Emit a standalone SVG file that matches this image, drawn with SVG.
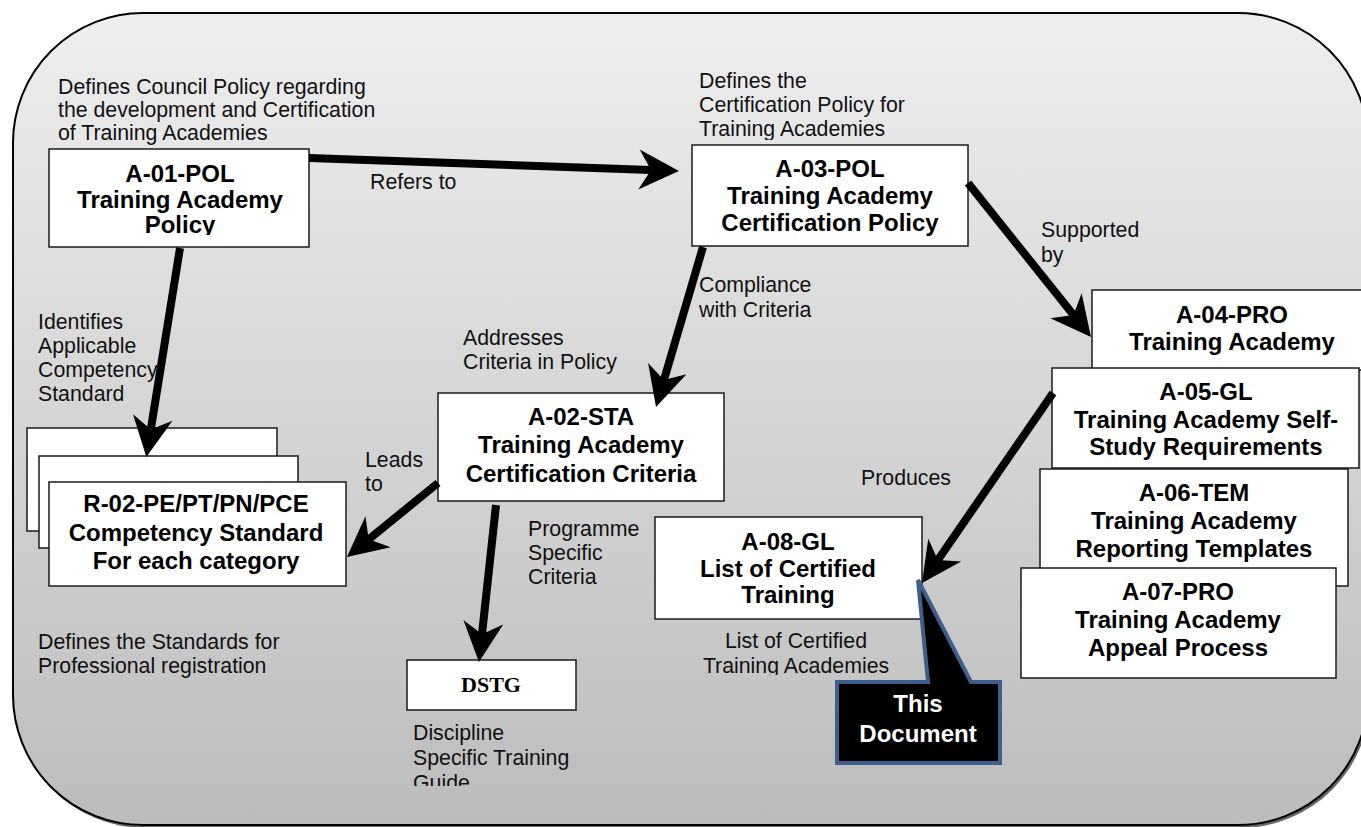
<svg xmlns="http://www.w3.org/2000/svg" width="1361" height="827" viewBox="0 0 1361 827">
<defs>
<linearGradient id="bgGrad" x1="0" y1="0" x2="0" y2="1">
<stop offset="0" stop-color="#eeeeee"/>
<stop offset="1" stop-color="#bcbcbc"/>
</linearGradient>
<marker id="ah" markerUnits="userSpaceOnUse" viewBox="-14 -22 46 44" refX="0" refY="0" markerWidth="46" markerHeight="44" orient="auto">
<path d="M28,0 L-12,-20 L0,0 L-12,20 Z" fill="#000"/>
</marker>
<clipPath id="clipA01"><rect x="40" y="140" width="280" height="95"/></clipPath>
<clipPath id="clipDef2"><rect x="690" y="60" width="300" height="80"/></clipPath>
<clipPath id="clipList"><rect x="680" y="620" width="240" height="55"/></clipPath>
<clipPath id="clipDisc"><rect x="400" y="715" width="200" height="71"/></clipPath>
<style>
.frame{fill:url(#bgGrad);stroke:#000;stroke-width:2}
.shadow{fill:#666}
.box{fill:#fff;stroke:#1a1a1a;stroke-width:1.5}
.t{font-family:"Liberation Sans",Arial,sans-serif;font-weight:bold;font-size:24px;fill:#000;text-anchor:middle}
.l{font-family:"Liberation Sans",Arial,sans-serif;font-size:21.3px;fill:#111}
.c{text-anchor:middle}
.w{fill:#fff}
.serif{font-family:"Liberation Serif","Times New Roman",serif;font-weight:bold;font-size:22px;fill:#000;text-anchor:middle}
.conn{stroke:#000;stroke-width:8;fill:none;marker-end:url(#ah)}
.callout{fill:#000;stroke:#3c5f8b;stroke-width:4;stroke-linejoin:miter}
</style>
</defs>

<g id="background">
<rect class="shadow" x="15" y="16" width="1355" height="812" rx="130" ry="130"/>
<rect class="frame" x="13" y="13" width="1355" height="812" rx="130" ry="130"/>
</g>

<g id="labels">
<text class="l" x="58" y="94">Defines Council Policy regarding</text>
<text class="l" x="58" y="117">the development and Certification</text>
<text class="l" x="58" y="140">of Training Academies</text>
<text class="l" x="370" y="189">Refers to</text>
<g clip-path="url(#clipDef2)">
<text class="l" x="699" y="88">Defines the</text>
<text class="l" x="699" y="112">Certification Policy for</text>
<text class="l" x="699" y="136">Training Academies</text>
</g>
<text class="l" x="1041" y="237">Supported</text>
<text class="l" x="1041" y="262">by</text>
<text class="l" x="38" y="329">Identifies</text>
<text class="l" x="38" y="353">Applicable</text>
<text class="l" x="38" y="377">Competency</text>
<text class="l" x="38" y="401">Standard</text>
<text class="l" x="699" y="292">Compliance</text>
<text class="l" x="699" y="317">with Criteria</text>
<text class="l" x="463" y="345">Addresses</text>
<text class="l" x="463" y="369">Criteria in Policy</text>
<text class="l" x="365" y="467">Leads</text>
<text class="l" x="365" y="491">to</text>
<text class="l" x="861" y="485">Produces</text>
<text class="l" x="528" y="536">Programme</text>
<text class="l" x="528" y="560">Specific</text>
<text class="l" x="528" y="584">Criteria</text>
<text class="l" x="38" y="649">Defines the Standards for</text>
<text class="l" x="38" y="673">Professional registration</text>
<g clip-path="url(#clipList)">
<text class="l c" x="796" y="648">List of Certified</text>
<text class="l c" x="796" y="673">Training Academies</text>
</g>
<g clip-path="url(#clipDisc)">
<text class="l" x="413" y="740">Discipline</text>
<text class="l" x="413" y="765">Specific Training</text>
<text class="l" x="413" y="790">Guide</text>
</g>
</g>

<g id="node-a01">
<rect class="box" x="49" y="149" width="260" height="98"/>
<g clip-path="url(#clipA01)">
<text class="t" x="180" y="182">A-01-POL</text>
<text class="t" x="180" y="208">Training Academy</text>
<text class="t" x="180" y="233">Policy</text>
</g>
</g>

<g id="node-a03">
<rect class="box" x="692" y="145" width="276" height="101"/>
<text class="t" x="830" y="177">A-03-POL</text>
<text class="t" x="830" y="204">Training Academy</text>
<text class="t" x="830" y="231">Certification Policy</text>
</g>

<g id="node-a04">
<rect class="box" x="1092" y="290" width="280" height="80"/>
<text class="t" x="1232" y="323">A-04-PRO</text>
<text class="t" x="1232" y="350">Training Academy</text>
</g>

<g id="node-a05">
<rect class="box" x="1052" y="368" width="307" height="100"/>
<text class="t" x="1206" y="400">A-05-GL</text>
<text class="t" x="1206" y="428">Training Academy Self-</text>
<text class="t" x="1206" y="455">Study Requirements</text>
</g>

<g id="node-a06">
<rect class="box" x="1040" y="469" width="308" height="117"/>
<text class="t" x="1194" y="501">A-06-TEM</text>
<text class="t" x="1194" y="529">Training Academy</text>
<text class="t" x="1194" y="557">Reporting Templates</text>
</g>

<g id="node-a07">
<rect class="box" x="1021" y="568" width="315" height="110"/>
<text class="t" x="1178" y="600">A-07-PRO</text>
<text class="t" x="1178" y="628">Training Academy</text>
<text class="t" x="1178" y="656">Appeal Process</text>
</g>

<g id="node-a02">
<rect class="box" x="438" y="393" width="286" height="108"/>
<text class="t" x="581" y="425">A-02-STA</text>
<text class="t" x="581" y="453">Training Academy</text>
<text class="t" x="581" y="482">Certification Criteria</text>
</g>

<g id="node-r02">
<rect class="box" x="27" y="428" width="250" height="103"/>
<rect class="box" x="39" y="456" width="259" height="92"/>
<rect class="box" x="49" y="482" width="297" height="104"/>
<text class="t" x="196" y="512">R-02-PE/PT/PN/PCE</text>
<text class="t" x="196" y="541">Competency Standard</text>
<text class="t" x="196" y="569">For each category</text>
</g>

<g id="node-a08">
<rect class="box" x="655" y="517" width="267" height="102"/>
<text class="t" x="788" y="550">A-08-GL</text>
<text class="t" x="788" y="577">List of Certified</text>
<text class="t" x="788" y="603">Training</text>
</g>

<g id="node-dstg">
<rect class="box" x="407" y="660" width="169" height="50"/>
<text class="serif" x="491" y="692">DSTG</text>
</g>

<g id="node-this-document">
<path class="callout" d="M837,682 L928,682 L918,580 L971,682 L1000,682 L1000,763 L837,763 Z"/>
<text class="t w" x="918" y="712">This</text>
<text class="t w" x="918" y="742">Document</text>
</g>

<g id="connectors">
<path class="conn" d="M309,158 L651,170"/>
<path class="conn" d="M968,183 L1073.5,315.1"/>
<path class="conn" d="M180,248 L150.8,429.4"/>
<path class="conn" d="M703,247 L663.9,380.1"/>
<path class="conn" d="M438,483 L368.7,539.3"/>
<path class="conn" d="M496,505 L482,634.2"/>
<path class="conn" d="M1053,393 L937.9,560"/>
</g>
</svg>
